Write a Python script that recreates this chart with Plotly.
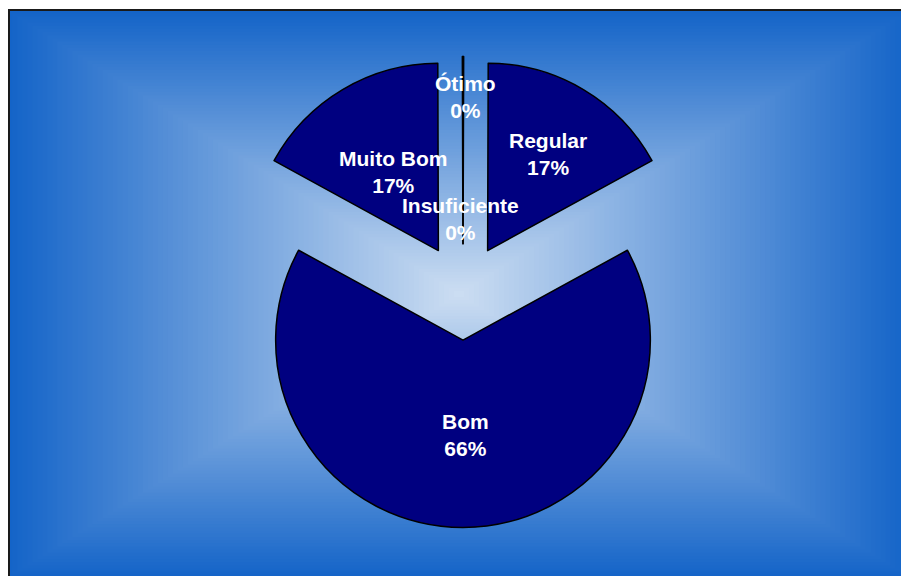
import plotly.graph_objects as go

# slices in clockwise order starting at 12 o'clock
labels = ['Insuficiente', 'Regular', 'Bom', 'Muito Bom', 'Ótimo']
values = [0.05, 17, 66, 17, 0.05]

W, H = 909, 576
OFF = 8  # page body margin: figure starts 8px in from the window corner
edge = (20, 100, 200)
centre = (205, 222, 242)


def px(x):
    return (x - OFF) / W


def py(y):
    return 1 - (y - OFF) / H


font = dict(family='Liberation Sans, Arial', size=21, color='white', weight='bold')

fig = go.Figure()
fig.add_trace(go.Pie(
    labels=labels, values=values, sort=False, direction='clockwise', rotation=0,
    pull=0.257,
    marker=dict(colors=['#000080'] * len(labels), line=dict(color='black', width=1.5)),
    textinfo='none',
    domain=dict(x=[px(463 - 300), px(463 + 300)], y=[py(527.5), py(56.5)]),
    hoverinfo='label+percent', showlegend=False,
))

# rectangular "from centre" gradient behind the pie
shapes = []
x0, x1, y0, y1 = 7, 911, 10, 578
cx, cy = (x0 + x1) / 2, (y0 + y1) / 2
hw, hh = (x1 - x0) / 2, (y1 - y0) / 2
n = 90
for i in range(n):
    t = i / n
    c = [round(e + (m - e) * t) for e, m in zip(edge, centre)]
    s = 1 - t
    shapes.append(dict(
        type='rect', xref='paper', yref='paper', layer='below',
        x0=px(cx - hw * s), x1=px(cx + hw * s),
        y0=py(cy + hh * s), y1=py(cy - hh * s),
        line=dict(width=0), fillcolor='rgb(%d,%d,%d)' % tuple(c)))
shapes.append(dict(type='rect', xref='paper', yref='paper', layer='below',
                   x0=px(9), x1=1.02, y0=-0.02, y1=py(y0),
                   line=dict(color='#1a1a1a', width=2), fillcolor='rgba(0,0,0,0)'))

# data labels where the original chart put them
label_pos = {'Insuficiente': (460, 219), 'Regular': (548, 154), 'Bom': (465, 435),
             'Muito Bom': (393, 172), 'Ótimo': (465, 97)}
total = sum(values)
annots = []
for lab, val in zip(labels, values):
    ax, ay = label_pos[lab]
    annots.append(dict(text=f'{lab}<br>{val / total:.0%}', x=px(ax), y=py(ay),
                       xref='paper', yref='paper', xanchor='center', yanchor='middle',
                       showarrow=False, font=font))

fig.update_layout(width=W, height=H, margin=dict(l=0, r=0, t=0, b=0),
                  paper_bgcolor='white', plot_bgcolor='white',
                  shapes=shapes, annotations=annots)
fig.write_html('out.html')
